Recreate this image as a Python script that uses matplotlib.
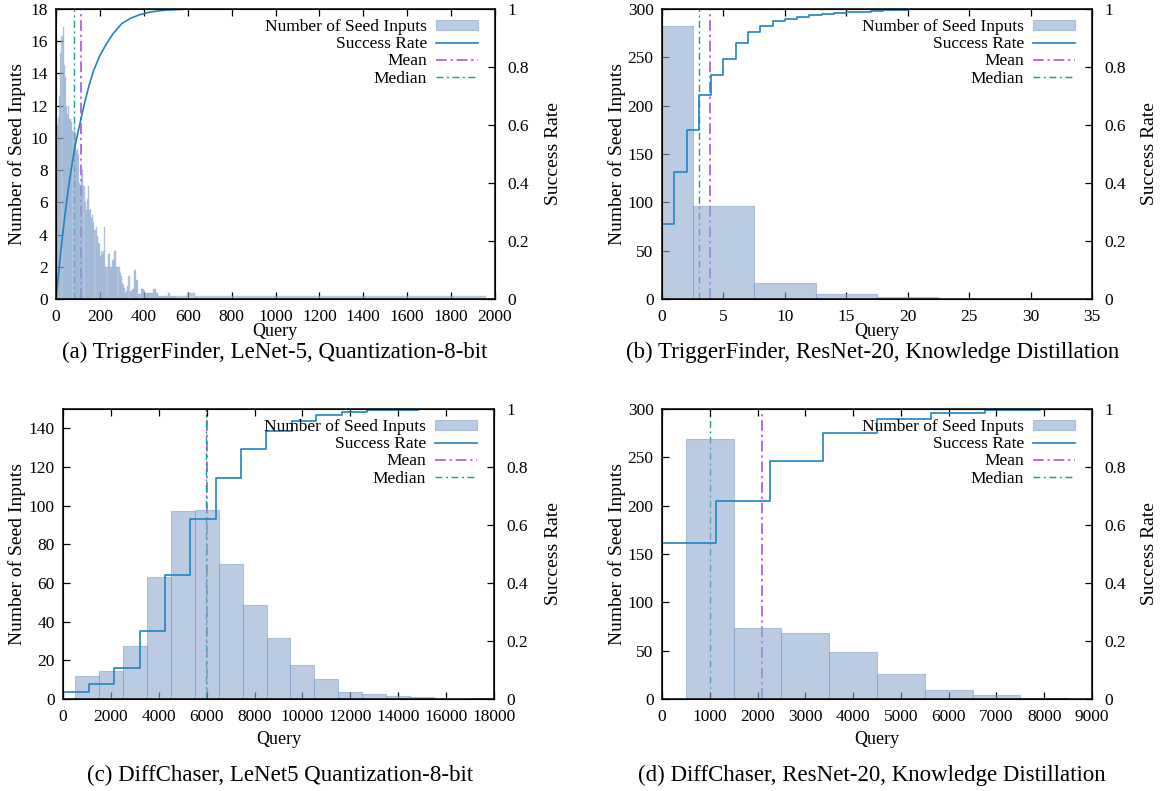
import numpy as np
import matplotlib
matplotlib.use("Agg")
import matplotlib.pyplot as plt
from matplotlib.patches import Rectangle
from matplotlib.lines import Line2D

plt.rcParams['font.family'] = ['Liberation Serif', 'DejaVu Serif']
plt.rcParams['font.size'] = 12.5

# ---------------- data ----------------
# (a) TriggerFinder, LeNet-5, Quantization-8-bit
a_bin_width = 5
a_counts = [8.0, 10.8, 11.3, 12.6, 15.3, 16.3, 16.9, 14.5, 13.8, 12.0,
            11.5, 12.0, 11.2, 11.2, 11.0, 10.4, 11.0, 10.3, 9.2, 9.3,
            9.0, 7.2, 7.0, 7.9, 8.0, 7.0, 6.0, 5.5, 6.2, 7.0,
            5.5, 5.6, 5.0, 5.2, 4.8, 4.3, 4.5, 3.9, 3.5, 3.4,
            2.7, 3.0, 2.8, 3.0, 4.5, 2.0, 2.0, 2.8, 2.8, 2.0,
            2.0, 2.4, 2.4, 3.0, 3.0, 2.0, 2.0, 2.0, 1.6, 1.4,
            1.0, 0.9, 0.7, 0.4, 0.5, 0.8, 1.4, 0.5, 0.5, 0.6,
            0.6, 1.8, 1.8, 1.2, 1.2, 0.3, 0.3, 0.6, 0.6, 0.6,
            0.5, 0.35, 0.35, 0.35, 0.35, 0.4, 0.4, 0.35, 0.6, 0.6,
            0.6, 0.4, 0.4, 0.2, 0.2, 0.2, 0.2, 0.2, 0.2, 0.2,
            0.2, 0.2, 0.4, 0.4, 0.2, 0.2, 0.2, 0.2, 0.2]
a_tail_edges = [545, 595, 635, 1960]
a_tail_counts = [0.18, 0.4, 0.18]
a_rate_q = [0, 10, 20, 30, 40, 50, 60, 70, 85, 100, 115, 130, 150, 170, 200,
            230, 260, 300, 340, 380, 420, 460, 500, 550, 600, 1960]
a_rate = [0, 0.075, 0.15, 0.22, 0.285, 0.345, 0.40, 0.45, 0.52, 0.575, 0.625,
          0.675, 0.735, 0.785, 0.84, 0.88, 0.915, 0.95, 0.968, 0.98, 0.988,
          0.993, 0.996, 0.998, 1.0, 1.0]
a_mean, a_median = 116, 84

# (b) TriggerFinder, ResNet-20, Knowledge Distillation
b_edges = [0, 2.5, 7.5, 12.5, 17.5, 22.5]
b_counts = [282, 96, 17, 5.2, 2.3]
b_rate_q = list(range(0, 22)) + [34]
b_rate = [0.259, 0.437, 0.584, 0.702, 0.772, 0.828, 0.882, 0.921, 0.943, 0.960,
          0.967, 0.972, 0.979, 0.984, 0.986, 0.988, 0.990, 0.992, 0.995, 0.998,
          0.999, 1.0, 1.0]
b_mean, b_median = 3.9, 3.0

# (c) DiffChaser, LeNet5 Quantization-8-bit
c_edges = [500, 1500, 2500, 3500, 4500, 5500, 6500, 7500, 8500, 9500,
           10500, 11500, 12500, 13500, 14500, 15500]
c_counts = [12.1, 14.3, 27.6, 62.9, 97.0, 97.9, 69.8, 48.8, 31.5, 17.4,
            10.3, 3.4, 2.8, 1.7, 1.0]
c_extra_edges = [17000, 18000]
c_extra_counts = [0.3]
c_rate_q = [0, 1070, 2130, 3200, 4270, 5320, 6380, 7420, 8490, 9550,
            10580, 11640, 12700, 13760, 14810, 18000]
c_rate = [0.023, 0.052, 0.107, 0.233, 0.426, 0.622, 0.762, 0.861, 0.923, 0.957,
          0.978, 0.990, 0.995, 0.998, 1.0, 1.0]
c_mean, c_median = 6030, 5990

# (d) DiffChaser, ResNet-20, Knowledge Distillation
d_edges = [500, 1500, 2500, 3500, 4500, 5500, 6500, 7500, 8500, 9000]
d_counts = [269, 73, 68, 48.6, 26, 9.3, 4.5, 1.0, 0.5]
d_rate_q = [0, 1130, 2250, 3380, 4510, 5630, 6760, 7910, 9000]
d_rate = [0.538, 0.682, 0.820, 0.917, 0.967, 0.986, 0.998, 1.0, 1.0]
d_mean, d_median = 2095, 1000

captions = ["(a) TriggerFinder, LeNet-5, Quantization-8-bit",
            "(b) TriggerFinder, ResNet-20, Knowledge Distillation",
            "(c) DiffChaser, LeNet5 Quantization-8-bit",
            "(d) DiffChaser, ResNet-20, Knowledge Distillation"]

# ---------------- style ----------------
W, H = 1164, 791
BAR_FACE = (0.557, 0.671, 0.816, 0.6)
BAR_EDGE = (0.50, 0.62, 0.79, 0.55)
RATE_C = '#1f84c2'
MEAN_C = '#a445e0'
MED_C = '#12a080'
MEAN_LS = (0, (7, 2.5, 1.5, 2.5))
MED_LS = (0, (5, 2.5, 1.5, 2.5))

fig = plt.figure(figsize=(W / 100, H / 100), dpi=100)


def px_axes(l, t, r, b):
    return fig.add_axes([l / W, 1 - b / H, (r - l) / W, (b - t) / H])


def ftext(x, y, s, **kw):
    fig.text(x / W, 1 - y / H, s, ha='center', va='center', **kw)


def panel(box, edges, counts, rq, rv, mean, med, xlim, xticks, ylim, yticks,
          smooth=False, bar_lw=0.8):
    ax = px_axes(*box)
    edges = np.asarray(edges, float)
    ax.bar(edges[:-1], counts, width=np.diff(edges), align='edge',
           facecolor=BAR_FACE, edgecolor=BAR_EDGE if bar_lw > 0 else 'none',
           linewidth=bar_lw, zorder=2)
    ax.axvline(mean, color=MEAN_C, lw=1.1, ls=MEAN_LS, zorder=1)
    ax.axvline(med, color=MED_C, lw=1.0, ls=MED_LS, zorder=1)
    ax.set_xlim(*xlim)
    ax.set_ylim(*ylim)
    ax.set_xticks(xticks)
    ax.set_yticks(yticks)
    ax.tick_params(axis='x', direction='in', length=5, width=0.9, top=True,
                   pad=7)
    ax.tick_params(axis='y', direction='in', length=5, width=0.9, pad=6)
    for s in ax.spines.values():
        s.set_linewidth(1.1)
    ax2 = ax.twinx()
    ax2.set_ylim(0, 1)
    ax2.set_yticks([0, 0.2, 0.4, 0.6, 0.8, 1])
    ax2.set_yticklabels(['0', '0.2', '0.4', '0.6', '0.8', '1'])
    ax2.tick_params(axis='y', direction='in', length=5, width=0.9, pad=9)
    if smooth:
        ax2.plot(rq, rv, color=RATE_C, lw=1.2)
    else:
        ax2.step(rq, rv, where='post', color=RATE_C, lw=1.2)
    handles = [Rectangle((0, 0), 1, 1, facecolor=BAR_FACE, edgecolor=BAR_EDGE,
                         linewidth=0.8),
               Line2D([], [], color=RATE_C, lw=1.2),
               Line2D([], [], color=MEAN_C, lw=1.1, ls=MEAN_LS),
               Line2D([], [], color=MED_C, lw=1.0, ls=MED_LS)]
    labels = ['Number of Seed Inputs', 'Success Rate', 'Mean', 'Median']
    l, t, r, b = box
    ax2.legend(handles, labels, loc='upper right', frameon=False,
               markerfirst=False, handlelength=2.4, handletextpad=0.55,
               labelspacing=0.07, borderpad=0, borderaxespad=0,
               bbox_to_anchor=(1 - 17 / (r - l), 1 - 10 / (b - t)),
               fontsize=12.5, handleheight=0.5)
    return ax, ax2


# (a)
a_edges = list(np.arange(len(a_counts) + 1) * a_bin_width)
a_all_edges = a_edges + a_tail_edges[1:]
a_all_counts = a_counts + a_tail_counts
a_all_edges[len(a_counts)] = a_tail_edges[0]
panel((56, 9, 495, 299), a_all_edges, a_all_counts, a_rate_q, a_rate,
      a_mean, a_median, (0, 2000), range(0, 2001, 200), (0, 18),
      range(0, 19, 2), smooth=True, bar_lw=0.3)
# (b)
panel((662, 9, 1092, 299), b_edges, b_counts, b_rate_q, b_rate,
      b_mean, b_median, (0, 35), range(0, 36, 5), (0, 300),
      range(0, 301, 50))
# (c)
c_all_edges = c_edges + c_extra_edges
c_all_counts = c_counts + [0] + c_extra_counts
panel((63, 409, 494, 699), c_all_edges, c_all_counts, c_rate_q, c_rate,
      c_mean, c_median, (0, 18000), range(0, 18001, 2000), (0, 150),
      range(0, 141, 20))
# (d)
panel((662, 409, 1092, 699), d_edges, d_counts, d_rate_q, d_rate,
      d_mean, d_median, (0, 9000), range(0, 9001, 1000), (0, 300),
      range(0, 301, 50))

# axis labels
for (qx, qy, nx, sx, cy) in [(275, 332, 17, 553, 154), (877, 332, 617, 1150, 154),
                             (279, 740, 17, 553, 554), (877, 740, 617, 1150, 554)]:
    ftext(qx, qy, 'Query', fontsize=13)
    ftext(nx, cy, 'Number of Seed Inputs', rotation=90, fontsize=14)
    ftext(sx, cy, 'Success Rate', rotation=90, fontsize=14)

ftext(275, 352, captions[0], fontsize=16.5)
ftext(873, 352, captions[1], fontsize=16.5)
ftext(280, 775, captions[2], fontsize=16.5)
ftext(872, 775, captions[3], fontsize=16.5)

fig.savefig('out.png', dpi=100)
